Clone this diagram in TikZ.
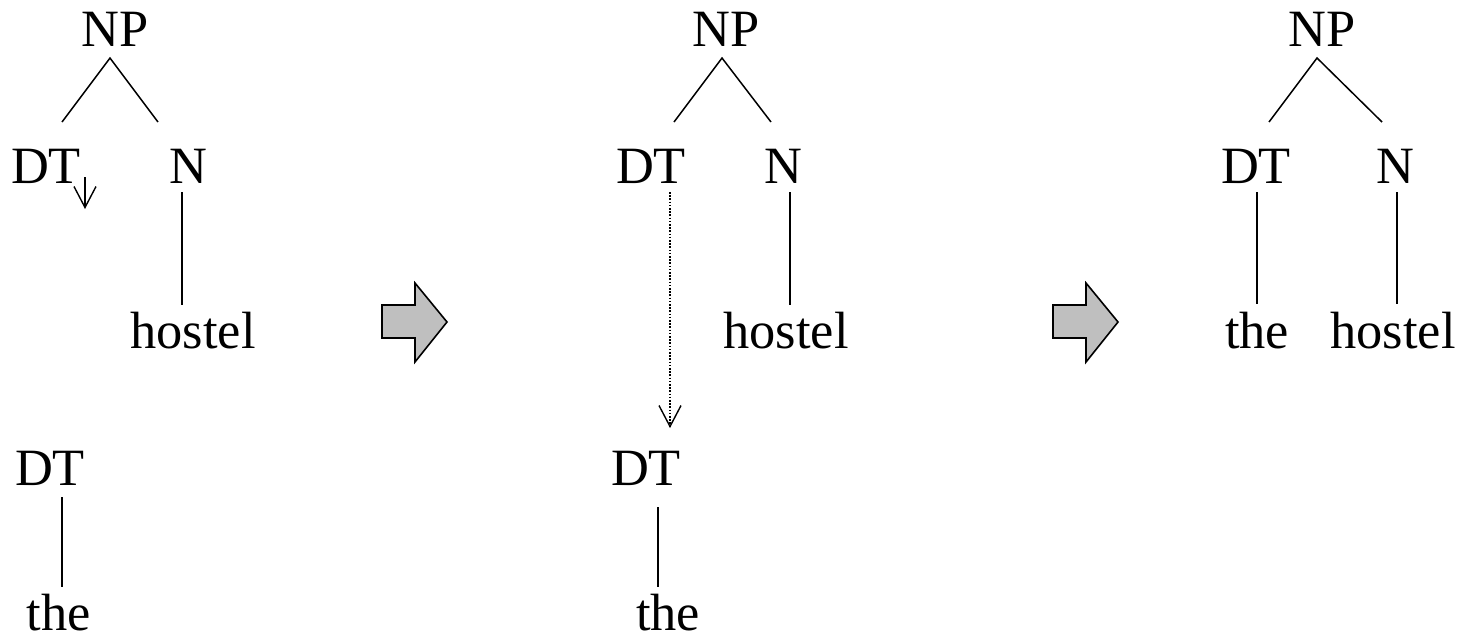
\documentclass[tikz,border=0pt]{standalone}
\usepackage{fontspec}
\setmainfont{Liberation Serif}
\usetikzlibrary{arrows.meta}
\begin{document}
\begin{tikzpicture}[x=0.5pt,y=-0.5pt,
  lbl/.style={inner sep=0pt,anchor=base,font=\fontsize{26.2}{30}\selectfont},
  edge/.style={line width=0.75pt},
  vtip/.style={-{Straight Barb[length=10.5pt,width=11pt,line width=0.7pt]}},
  dotline/.style={line width=0.7pt,dash pattern=on 0.8pt off 0.8pt},
  blockarrow/.style={draw=black,line width=0.8pt,fill=black!25,line join=miter}]
\useasboundingbox (0,0) rectangle (1466,639);
% ---------- tree 1 ----------
\node[lbl] (np1) at (115,46) {NP};
\node[lbl] (dt1) at (46,183) {DT};
\node[lbl] (n1) at (188,183) {N};
\node[lbl] (hostel1) at (193,348) {hostel};
\node[lbl] (dtb1) at (50,485) {DT};
\node[lbl] (the1) at (59,630) {the};
\coordinate (np1b) at (110,58);
\coordinate (dt1t) at (62,122);
\coordinate (n1t) at (158,122);
\coordinate (n1b) at (182,192);
\coordinate (hostel1t) at (182,305);
\coordinate (sub1a) at (85,177);
\coordinate (sub1b) at (85,209);
\coordinate (dtb1b) at (62,497);
\coordinate (the1t) at (62,587);
\draw[edge] (dt1t) -- (np1b) -- (n1t);
\draw[edge] (n1b) -- (hostel1t);
\draw[edge] (dtb1b) -- (the1t);
\draw[edge,vtip] (sub1a) -- (sub1b);
% ---------- block arrow 1 ----------
\draw[blockarrow] (382,305) -- (415,305) -- (415,283) -- (447,322) -- (415,362) -- (415,338) -- (382,338) -- cycle;
% ---------- tree 2 ----------
\node[lbl] (np2) at (726,46) {NP};
\node[lbl] (dt2) at (651,183) {DT};
\node[lbl] (n2) at (783,183) {N};
\node[lbl] (hostel2) at (786,348) {hostel};
\node[lbl] (dtb2) at (646,485) {DT};
\node[lbl] (the2) at (668,630) {the};
\coordinate (np2b) at (722,58);
\coordinate (dt2t) at (674,122);
\coordinate (n2t) at (771,122);
\coordinate (n2b) at (790,192);
\coordinate (hostel2t) at (790,305);
\coordinate (dt2b) at (670,192);
\coordinate (subtip) at (670,428);
\coordinate (dtb2b) at (658,507);
\coordinate (the2t) at (658,587);
\draw[edge] (dt2t) -- (np2b) -- (n2t);
\draw[edge] (n2b) -- (hostel2t);
\draw[edge] (dtb2b) -- (the2t);
\draw[dotline,vtip] (dt2b) -- (subtip);
% ---------- block arrow 2 ----------
\draw[blockarrow] (1053,305) -- (1086,305) -- (1086,283) -- (1118,322) -- (1086,362) -- (1086,338) -- (1053,338) -- cycle;
% ---------- tree 3 ----------
\node[lbl] (np3) at (1322,46) {NP};
\node[lbl] (dt3) at (1256,183) {DT};
\node[lbl] (n3) at (1395,183) {N};
\node[lbl] (the3) at (1257,348) {the};
\node[lbl] (hostel3) at (1393,348) {hostel};
\coordinate (np3b) at (1317,58);
\coordinate (dt3t) at (1269,122);
\coordinate (n3t) at (1382,122);
\coordinate (dt3b) at (1257,192);
\coordinate (the3t) at (1257,304);
\coordinate (n3b) at (1397,192);
\coordinate (hostel3t) at (1397,304);
\draw[edge] (dt3t) -- (np3b) -- (n3t);
\draw[edge] (dt3b) -- (the3t);
\draw[edge] (n3b) -- (hostel3t);
\end{tikzpicture}
\end{document}
